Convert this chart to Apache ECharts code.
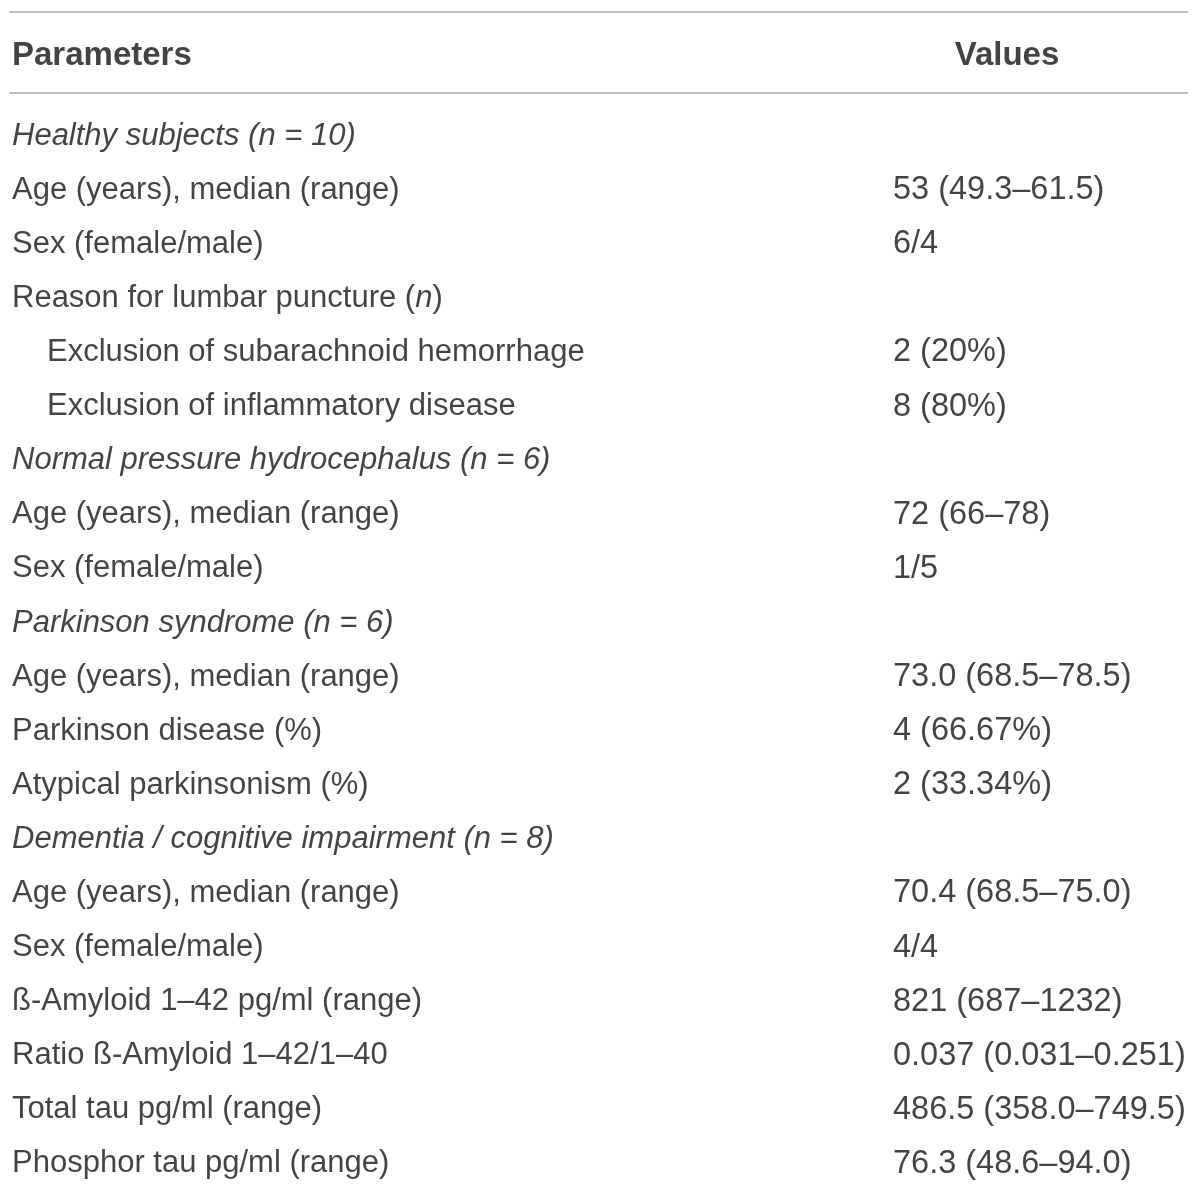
<!DOCTYPE html>
<html>
<head>
<meta charset="utf-8">
<script src="https://cdn.jsdelivr.net/npm/echarts@6/dist/echarts.min.js"></script>
<style>
  html, body { margin: 0; padding: 0; background: #fff; }
  #main { width: 1200px; height: 1192px; }
</style>
</head>
<body>
<div id="main"></div>
<script>
// table content
const headers = ['Parameters', 'Values'];

const parameters = [
  'Healthy subjects (n = 10)',
  'Age (years), median (range)',
  'Sex (female/male)',
  'Reason for lumbar puncture ({it|n})',
  'Exclusion of subarachnoid hemorrhage',
  'Exclusion of inflammatory disease',
  'Normal pressure hydrocephalus (n = 6)',
  'Age (years), median (range)',
  'Sex (female/male)',
  'Parkinson syndrome (n = 6)',
  'Age (years), median (range)',
  'Parkinson disease (%)',
  'Atypical parkinsonism (%)',
  'Dementia / cognitive impairment (n = 8)',
  'Age (years), median (range)',
  'Sex (female/male)',
  'ß-Amyloid 1–42 pg/ml (range)',
  'Ratio ß-Amyloid 1–42/1–40',
  'Total tau pg/ml (range)',
  'Phosphor tau pg/ml (range)'
];

const values = [
  '', '53 (49.3–61.5)', '6/4', '', '2 (20%)', '8 (80%)',
  '', '72 (66–78)', '1/5',
  '', '73.0 (68.5–78.5)', '4 (66.67%)', '2 (33.34%)',
  '', '70.4 (68.5–75.0)', '4/4', '821 (687–1232)', '0.037 (0.031–0.251)',
  '486.5 (358.0–749.5)', '76.3 (48.6–94.0)'
];

// g = group heading (italic), i = indented, n = normal
const rowKind = ['g', 'n', 'n', 'n', 'i', 'i', 'g', 'n', 'n', 'g', 'n', 'n', 'n', 'g', 'n', 'n', 'n', 'n', 'n', 'n'];

const TEXT = '#161314';
const RULE = '#bcbcbc';
const FONT = 'Liberation Sans, Arial, sans-serif';
const COL_LEFT = 2, COL_INDENT = 37, COL_VALUES = 883, COL_VALUES_HEAD = 997;

const rowIds = parameters.map((_, i) => i);

function textLabel(size) {
  return {
    show: true,
    position: 'right',
    distance: 0,
    offset: [0, 3],
    color: TEXT,
    fontFamily: FONT,
    fontSize: size,
    formatter: p => p.name,
    rich: { it: { fontStyle: 'italic', fontFamily: FONT, fontSize: size, color: TEXT } }
  };
}

const chart = echarts.init(document.getElementById('main'), null, { renderer: 'canvas' });

chart.setOption({
  animation: false,
  backgroundColor: '#fff',
  grid: [
    { left: 10, right: 13, top: 12, height: 81 },
    { left: 10, right: 13, top: 106, height: 1082 }
  ],
  xAxis: [
    { gridIndex: 0, type: 'value', min: 0, max: 1177, position: 'top',
      axisLine: { show: true, lineStyle: { color: RULE, width: 2 } },
      axisTick: { show: false }, axisLabel: { show: false }, splitLine: { show: false } },
    { gridIndex: 0, type: 'value', min: 0, max: 1177, position: 'bottom',
      axisLine: { show: true, lineStyle: { color: RULE, width: 2 } },
      axisTick: { show: false }, axisLabel: { show: false }, splitLine: { show: false } },
    { gridIndex: 1, type: 'value', min: 0, max: 1177, show: false }
  ],
  yAxis: [
    { gridIndex: 0, type: 'category', data: ['head'], show: false },
    { gridIndex: 1, type: 'category', data: rowIds, inverse: true, show: false }
  ],
  series: [
    {
      type: 'scatter', xAxisIndex: 0, yAxisIndex: 0, symbolSize: 0,
      label: { show: true, color: TEXT, fontFamily: FONT, fontSize: 33, fontWeight: 'bold',
        offset: [0, 3], formatter: p => p.name },
      data: [
        { name: headers[0], value: [COL_LEFT, 0], label: { position: 'right', distance: 0 } },
        { name: headers[1], value: [COL_VALUES_HEAD, 0], label: { position: 'inside', align: 'center' } }
      ]
    },
    {
      type: 'scatter', xAxisIndex: 2, yAxisIndex: 1, symbolSize: 0,
      label: textLabel(31),
      data: parameters.map((t, i) => ({
        name: t,
        value: [rowKind[i] === 'i' ? COL_INDENT : COL_LEFT, i],
        label: rowKind[i] === 'g' ? { fontStyle: 'italic' } : {}
      }))
    },
    {
      type: 'scatter', xAxisIndex: 2, yAxisIndex: 1, symbolSize: 0,
      label: textLabel(32.5),
      data: values.map((t, i) => ({ name: t, value: [COL_VALUES, i] })).filter(d => d.name !== '')
    }
  ]
});
</script>
</body>
</html>
